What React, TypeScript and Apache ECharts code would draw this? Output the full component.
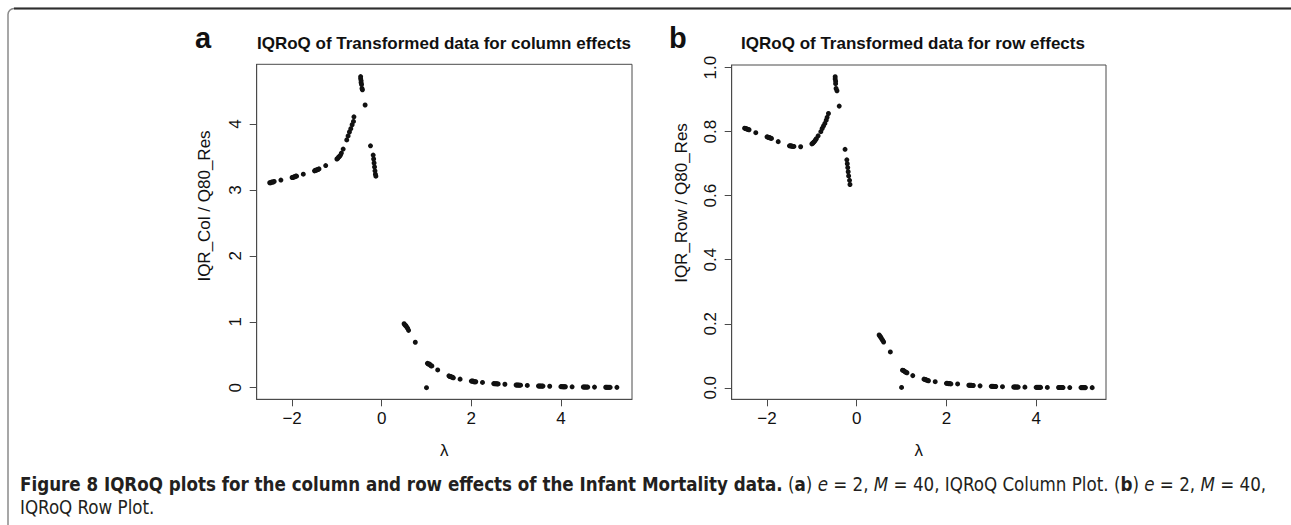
import React, { useEffect, useRef } from "react";
import * as echarts from "echarts";

// ---- Data ----
// Panel a: IQR_Col / Q80_Res vs lambda
const lambdaA: number[] = [
  -2.5, -2.48, -2.46, -2.44, -2.42, -2.4, -2.25,
  -2.0, -1.98, -1.96, -1.94, -1.92, -1.9, -1.75,
  -1.5, -1.48, -1.46, -1.44, -1.42, -1.4, -1.25,
  -1.0, -0.98, -0.96, -0.94, -0.92, -0.9, -0.86,
  -0.78, -0.75, -0.72, -0.69, -0.66, -0.63, -0.62,
  -0.47, -0.47, -0.46, -0.46, -0.45, -0.44, -0.43, -0.37,
  -0.25, -0.19, -0.18, -0.17, -0.16, -0.15, -0.14, -0.13,
  0.5, 0.52, 0.54, 0.56, 0.58, 0.6, 0.75,
  1.0,
  1.02, 1.04, 1.06, 1.08, 1.1, 1.12, 1.25,
  1.5, 1.52, 1.54, 1.56, 1.58, 1.6, 1.75,
  2.0, 2.02, 2.04, 2.06, 2.08, 2.1, 2.25,
  2.5, 2.52, 2.54, 2.56, 2.58, 2.6, 2.75,
  3.0, 3.02, 3.04, 3.06, 3.08, 3.1, 3.25,
  3.5, 3.52, 3.54, 3.56, 3.58, 3.6, 3.75,
  4.0, 4.02, 4.04, 4.06, 4.08, 4.1, 4.25,
  4.5, 4.52, 4.54, 4.56, 4.58, 4.6, 4.75,
  5.0, 5.02, 5.04, 5.06, 5.08, 5.1, 5.25,
];
const valuesA: number[] = [
  3.11, 3.11, 3.12, 3.12, 3.12, 3.13, 3.15,
  3.19, 3.19, 3.2, 3.2, 3.21, 3.21, 3.24,
  3.29, 3.3, 3.3, 3.31, 3.31, 3.32, 3.37,
  3.47, 3.48, 3.5, 3.51, 3.53, 3.56, 3.62,
  3.76, 3.82, 3.88, 3.93, 3.99, 4.04, 4.11,
  4.72, 4.69, 4.66, 4.63, 4.6, 4.54, 4.52, 4.29,
  3.67, 3.53, 3.47, 3.41, 3.35, 3.29, 3.24, 3.21,
  0.97, 0.95, 0.94, 0.92, 0.9, 0.87, 0.69,
  0.0,
  0.37, 0.36, 0.36, 0.35, 0.33, 0.33, 0.27,
  0.18, 0.17, 0.17, 0.16, 0.16, 0.15, 0.13,
  0.1, 0.1, 0.1, 0.09, 0.09, 0.09, 0.08,
  0.062, 0.061, 0.06, 0.059, 0.058, 0.057, 0.052,
  0.041, 0.04, 0.04, 0.039, 0.038, 0.038, 0.034,
  0.026, 0.026, 0.025, 0.025, 0.024, 0.024, 0.022,
  0.016, 0.016, 0.015, 0.015, 0.015, 0.014, 0.013,
  0.011, 0.011, 0.01, 0.01, 0.01, 0.01, 0.009,
  0.007, 0.007, 0.006, 0.006, 0.006, 0.006, 0.005,
];

// Panel b: IQR_Row / Q80_Res vs lambda
const lambdaB: number[] = [
  -2.5, -2.48, -2.46, -2.44, -2.42, -2.4, -2.25,
  -2.0, -1.98, -1.96, -1.94, -1.92, -1.9, -1.75,
  -1.5, -1.48, -1.46, -1.44, -1.42, -1.4, -1.25,
  -1.0, -0.98, -0.96, -0.94, -0.92, -0.9, -0.86,
  -0.8, -0.77, -0.74, -0.71, -0.68, -0.66, -0.63,
  -0.48, -0.48, -0.47, -0.47, -0.46, -0.44, -0.39,
  -0.26, -0.22, -0.21, -0.2, -0.19, -0.18, -0.16, -0.15,
  0.5, 0.52, 0.54, 0.56, 0.58, 0.6, 0.75,
  1.0,
  1.02, 1.04, 1.06, 1.08, 1.1, 1.12, 1.25,
  1.5, 1.52, 1.54, 1.56, 1.58, 1.6, 1.75,
  2.0, 2.02, 2.04, 2.06, 2.08, 2.1, 2.25,
  2.5, 2.52, 2.54, 2.56, 2.58, 2.6, 2.75,
  3.0, 3.02, 3.04, 3.06, 3.08, 3.1, 3.25,
  3.5, 3.52, 3.54, 3.56, 3.58, 3.6, 3.75,
  4.0, 4.02, 4.04, 4.06, 4.08, 4.1, 4.25,
  4.5, 4.52, 4.54, 4.56, 4.58, 4.6, 4.75,
  5.0, 5.02, 5.04, 5.06, 5.08, 5.1, 5.25,
];
const valuesB: number[] = [
  0.811, 0.81, 0.809, 0.808, 0.807, 0.806, 0.797,
  0.784, 0.783, 0.782, 0.781, 0.78, 0.779, 0.769,
  0.756, 0.756, 0.755, 0.755, 0.754, 0.754, 0.753,
  0.762, 0.764, 0.767, 0.77, 0.774, 0.778, 0.787,
  0.8, 0.81, 0.818, 0.826, 0.836, 0.845, 0.857,
  0.972, 0.965, 0.958, 0.95, 0.935, 0.928, 0.88,
  0.745, 0.712, 0.7, 0.688, 0.675, 0.662, 0.648, 0.635,
  0.165, 0.161, 0.157, 0.152, 0.148, 0.143, 0.112,
  0.001,
  0.055, 0.054, 0.052, 0.05, 0.048, 0.047, 0.038,
  0.027, 0.026, 0.025, 0.024, 0.023, 0.022, 0.019,
  0.014, 0.014, 0.013, 0.013, 0.013, 0.012, 0.012,
  0.008, 0.008, 0.0078, 0.0076, 0.0074, 0.0072, 0.006,
  0.0045, 0.0044, 0.0043, 0.0042, 0.0041, 0.004, 0.0035,
  0.0025, 0.0025, 0.0024, 0.0024, 0.0023, 0.0023, 0.002,
  0.0013, 0.0013, 0.0012, 0.0012, 0.0012, 0.0012, 0.001,
  0.0008, 0.0008, 0.0008, 0.0008, 0.0008, 0.0007, 0.0007,
  0.0005, 0.0005, 0.0005, 0.0005, 0.0005, 0.0005, 0.0004,
];

const xTicks: number[] = [-2, 0, 2, 4];
const yTicksA: number[] = [0, 1, 2, 3, 4];
const yTicksB: number[] = [0, 0.2, 0.4, 0.6, 0.8, 1.0];

const titleA = "IQRoQ of Transformed data for column effects";
const titleB = "IQRoQ of Transformed data for row effects";
const yNameA = "IQR_Col / Q80_Res";
const yNameB = "IQR_Row / Q80_Res";
const xName = "λ";

const AXIS_FONT = "'Liberation Sans', Arial, Helvetica, sans-serif";
const CAP_FONT = "'Liberation Sans Narrow', 'DejaVu Sans Condensed', 'Open Sans', sans-serif";
const CAP_SIZE = 18.6;
const INK = "#111111";
const BOX = "#4a4a4a";

function pairs(xs: number[], ys: number[]) {
  return xs.map((x, i) => [x, ys[i]]);
}

function minusFmt(v: number, digits: number) {
  const s = digits > 0 ? v.toFixed(digits) : String(v);
  return s.replace("-", "\u2212");
}

function makeX(gridIndex: number, min: number, max: number) {
  return {
    type: "value",
    gridIndex,
    min,
    max,
    name: xName,
    nameLocation: "middle",
    nameGap: 43,
    nameTextStyle: { fontFamily: AXIS_FONT, fontSize: 17, color: INK },
    axisLine: { show: true, onZero: false, lineStyle: { color: BOX, width: 1 } },
    axisTick: { show: true, length: 7, customValues: xTicks, lineStyle: { color: BOX } },
    axisLabel: {
      customValues: xTicks,
      margin: 11,
      fontFamily: AXIS_FONT,
      fontSize: 17,
      color: INK,
      formatter: (v: number) => minusFmt(v, 0),
    },
    splitLine: { show: false },
  };
}

function makeY(gridIndex: number, min: number, max: number, ticks: number[], digits: number) {
  return {
    type: "value",
    gridIndex,
    min,
    max,
    axisLine: { show: true, onZero: false, lineStyle: { color: BOX, width: 1 } },
    axisTick: { show: true, length: 7, customValues: ticks, lineStyle: { color: BOX } },
    axisLabel: {
      customValues: ticks,
      rotate: 90,
      margin: 13,
      fontFamily: AXIS_FONT,
      fontSize: 17,
      color: INK,
      formatter: (v: number) => minusFmt(v, digits),
    },
    splitLine: { show: false },
  };
}

export default function App() {
  const ref = useRef<HTMLDivElement>(null);

  useEffect(() => {
    if (!ref.current) return;
    const chart = echarts.init(ref.current, undefined, { renderer: "svg" });
    const capStyle = { fontFamily: CAP_FONT, fontSize: CAP_SIZE, fill: "#231f20" };
    const axisNameStyle = {
      fontFamily: AXIS_FONT,
      fontSize: 17,
      fill: INK,
      textAlign: "center",
      textVerticalAlign: "middle",
    };
    const option: any = {
      animation: false,
      backgroundColor: "#ffffff",
      grid: [
        { left: 256.7, top: 64.3, width: 375.3, height: 335, show: true, borderColor: BOX, borderWidth: 1, backgroundColor: "transparent" },
        { left: 731.7, top: 65, width: 374.3, height: 334.3, show: true, borderColor: BOX, borderWidth: 1, backgroundColor: "transparent" },
      ],
      xAxis: [makeX(0, -2.79, 5.587), makeX(1, -2.787, 5.558)],
      yAxis: [
        makeY(0, -0.176, 4.907, yTicksA, 0),
        makeY(1, -0.036, 1.0084, yTicksB, 1),
      ],
      series: [
        {
          type: "scatter",
          xAxisIndex: 0,
          yAxisIndex: 0,
          data: pairs(lambdaA, valuesA),
          symbol: "circle",
          symbolSize: 5,
          itemStyle: { color: INK, opacity: 1 },
        },
        {
          type: "scatter",
          xAxisIndex: 1,
          yAxisIndex: 1,
          data: pairs(lambdaB, valuesB),
          symbol: "circle",
          symbolSize: 5,
          itemStyle: { color: INK, opacity: 1 },
        },
      ],
      graphic: [
        {
          type: "rect",
          shape: { x: 8, y: 8.5, width: 1400, height: 700, r: 6 },
          style: { fill: "none", stroke: "#8a8a8a", lineWidth: 1.5 },
          silent: true,
        },
        {
          type: "line",
          shape: { x1: 14, y1: 8.5, x2: 1291, y2: 8.5 },
          style: { stroke: "#2e2e2e", lineWidth: 2 },
          silent: true,
        },
        {
          type: "text",
          x: 195,
          y: 52,
          style: { text: "a", fontFamily: AXIS_FONT, fontWeight: "bold", fontSize: 29, fill: INK, textVerticalAlign: "bottom" },
        },
        {
          type: "text",
          x: 669,
          y: 52,
          style: { text: "b", fontFamily: AXIS_FONT, fontWeight: "bold", fontSize: 29, fill: INK, textVerticalAlign: "bottom" },
        },
        {
          type: "text",
          x: 444,
          y: 43,
          style: { text: titleA, fontFamily: AXIS_FONT, fontWeight: "bold", fontSize: 17, fill: INK, textAlign: "center", textVerticalAlign: "middle" },
        },
        {
          type: "text",
          x: 913,
          y: 43,
          style: { text: titleB, fontFamily: AXIS_FONT, fontWeight: "bold", fontSize: 17, fill: INK, textAlign: "center", textVerticalAlign: "middle" },
        },
        // y axis names
        {
          type: "text",
          x: 204,
          y: 206,
          rotation: Math.PI / 2,
          style: { text: yNameA, ...axisNameStyle },
        },
        {
          type: "text",
          x: 681,
          y: 203,
          rotation: Math.PI / 2,
          style: { text: yNameB, ...axisNameStyle },
        },
        {
          type: "text",
          x: 20,
          y: 484,
          style: {
            text:
              "{b|Figure 8 IQRoQ plots for the column and row effects of the Infant Mortality data.} {r|(}{b|a}{r|) }{i|e}{r| = 2, }{i|M}{r| = 40, IQRoQ Column Plot. (}{b|b}{r|) }{i|e}{r| = 2, }{i|M}{r| = 40,}",
            textVerticalAlign: "middle",
            ...capStyle,
            rich: {
              b: { ...capStyle, fontWeight: "bold" },
              r: { ...capStyle },
              i: { ...capStyle, fontStyle: "italic" },
            },
          },
        },
        {
          type: "text",
          x: 20,
          y: 507,
          style: { text: "IQRoQ Row Plot.", ...capStyle, textVerticalAlign: "middle" },
        },
      ],
    };
    chart.setOption(option);
    return () => chart.dispose();
  }, []);

  return (
    <div
      ref={ref}
      style={{ position: "fixed", left: 0, top: 0, width: 1291, height: 525, background: "#fff" }}
    />
  );
}
